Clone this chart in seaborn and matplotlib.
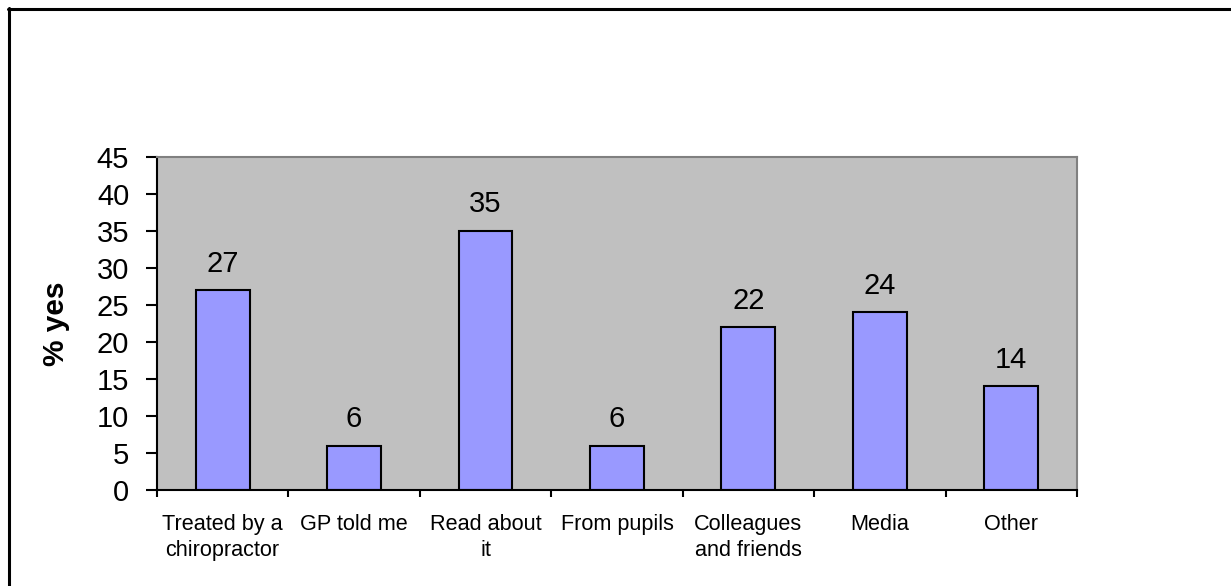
import matplotlib
matplotlib.use("Agg")
import matplotlib.pyplot as plt
from matplotlib.lines import Line2D
from matplotlib.ticker import FixedLocator, MultipleLocator
import seaborn as sns
import pandas as pd

categories = [
    "Treated by a\nchiropractor",
    "GP told me",
    "Read about\nit",
    "From pupils",
    "Colleagues\nand friends",
    "Media",
    "Other",
]
percent_yes = [27, 6, 35, 6, 22, 24, 14]

df = pd.DataFrame({"source": categories, "pct": percent_yes})

sns.set_style("white")
plt.rcParams["font.family"] = ["Liberation Sans", "DejaVu Sans"]
plt.rcParams.update({
    "text.color": "black",
    "axes.labelcolor": "black",
    "xtick.color": "black",
    "ytick.color": "black",
})

fig = plt.figure(figsize=(12.31, 5.86), dpi=100)
ax = fig.add_axes([0.1275, 0.1638, 0.7474, 0.5683])

sns.barplot(data=df, x="source", y="pct", color="#9999FF",
            edgecolor="black", linewidth=1.5, width=0.41, ax=ax,
            saturation=1)

ax.set_facecolor("#C0C0C0")
ax.set_ylim(0, 45)
ax.set_xlim(-0.5, len(categories) - 0.5)
ax.yaxis.set_major_locator(MultipleLocator(5))

# Category separators as outward ticks on the x axis
ax.xaxis.set_minor_locator(FixedLocator([i - 0.5 for i in range(len(categories) + 1)]))
ax.tick_params(axis="x", which="major", length=0, pad=17, labelsize=15.6)
ax.tick_params(axis="x", which="minor", length=5, width=1.5, color="black",
               direction="out", bottom=True)
ax.tick_params(axis="y", which="major", length=8, width=1.5, color="black",
               direction="out", left=True, labelsize=21, pad=12)
for lbl in ax.get_xticklabels():
    lbl.set_linespacing(1.35)
    lbl.set_multialignment("center")

for side in ("left", "bottom"):
    ax.spines[side].set_color("black")
    ax.spines[side].set_linewidth(1.5)
for side in ("top", "right"):
    ax.spines[side].set_visible(True)
    ax.spines[side].set_color("#808080")
    ax.spines[side].set_linewidth(1.5)

ax.set_xlabel("")
ax.set_ylabel("% yes", fontsize=21.5, fontweight="bold")
ax.yaxis.set_label_coords(-0.094, 0.5)

for container in ax.containers:
    ax.bar_label(container, labels=[str(v) for v in percent_yes],
                 padding=9, fontsize=21)

# Frame lines along the top and left edges of the figure
fig.add_artist(Line2D([8 / 1231, 1.0], [1 - 9 / 586, 1 - 9 / 586],
                      color="black", linewidth=2.2, transform=fig.transFigure))
fig.add_artist(Line2D([9 / 1231, 9 / 1231], [0.0, 1 - 8 / 586],
                      color="black", linewidth=2.2, transform=fig.transFigure))

fig.savefig("out.png", dpi=100, facecolor="white")
